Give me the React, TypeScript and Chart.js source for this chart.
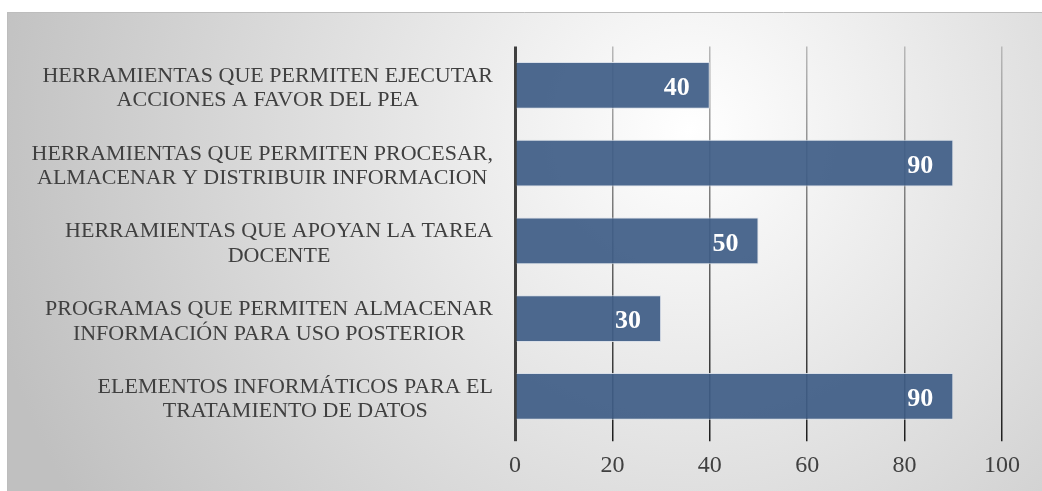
import React, { useEffect, useRef } from "react";
import { Chart, registerables } from "chart.js";

Chart.register(...registerables);

const categories: string[][] = [
  ["HERRAMIENTAS QUE PERMITEN EJECUTAR", "ACCIONES A FAVOR DEL PEA"],
  ["HERRAMIENTAS QUE PERMITEN PROCESAR,", "ALMACENAR Y DISTRIBUIR INFORMACION"],
  ["HERRAMIENTAS QUE APOYAN LA TAREA", "DOCENTE"],
  ["PROGRAMAS QUE PERMITEN ALMACENAR", "INFORMACIÓN PARA USO POSTERIOR"],
  ["ELEMENTOS INFORMÁTICOS PARA EL", "TRATAMIENTO DE DATOS"],
];
const values: number[] = [40, 90, 50, 30, 90];
const xTicks: number[] = [0, 20, 40, 60, 80, 100];

const FONT = "'Liberation Serif', 'Times New Roman', serif";

const backgroundPlugin = {
  id: "bgFrame",
  beforeDraw(chart: any) {
    const { ctx, width, height } = chart;
    ctx.save();
    ctx.fillStyle = "#ffffff";
    ctx.fillRect(0, 0, width, height);
    const g = ctx.createRadialGradient(690, 130, 0, 690, 130, 720);
    g.addColorStop(0, "#ffffff");
    g.addColorStop(1, "#c0c0c0");
    ctx.fillStyle = g;
    ctx.fillRect(7, 12, width - 7, height - 12);
    ctx.strokeStyle = "#bdbdbd";
    ctx.lineWidth = 1;
    ctx.beginPath();
    ctx.moveTo(7.5, height);
    ctx.lineTo(7.5, 12.5);
    ctx.lineTo(width, 12.5);
    ctx.stroke();
    ctx.restore();
  },
};

const categoryLabelPlugin = {
  id: "catLabels",
  afterDraw(chart: any) {
    const { ctx } = chart;
    const yScale = chart.scales.y;
    const right = chart.chartArea.left - 22;
    ctx.save();
    ctx.font = `22px ${FONT}`;
    ctx.fillStyle = "#404040";
    ctx.textAlign = "center";
    ctx.textBaseline = "middle";
    categories.forEach((lines, i) => {
      const yc = yScale.getPixelForValue(i);
      const widest = Math.max(...lines.map((l) => ctx.measureText(l).width));
      const cx = right - widest / 2;
      const pitch = 24.5;
      lines.forEach((l, j) => {
        const y = yc + 3 + (j - (lines.length - 1) / 2) * pitch;
        ctx.fillText(l, cx, y);
      });
    });
    ctx.restore();
  },
};

const valueLabelPlugin = {
  id: "valLabels",
  afterDatasetsDraw(chart: any) {
    const { ctx } = chart;
    const meta = chart.getDatasetMeta(0);
    ctx.save();
    ctx.font = `bold 26px ${FONT}`;
    ctx.fillStyle = "#ffffff";
    ctx.textAlign = "right";
    ctx.textBaseline = "middle";
    meta.data.forEach((bar: any, i: number) => {
      ctx.fillText(String(values[i]), bar.x - 20, bar.y + 3);
    });
    ctx.restore();
  },
};

export default function App() {
  const ref = useRef<HTMLCanvasElement>(null);
  useEffect(() => {
    if (!ref.current) return;
    const chart = new Chart(ref.current, {
      type: "bar",
      data: {
        labels: categories.map((c) => c.join(" ")),
        datasets: [
          {
            data: values,
            backgroundColor: "rgba(64, 94, 134, 0.93)",
            borderColor: "rgba(215, 222, 232, 0.9)",
            borderWidth: 1,
            barPercentage: 0.6,
            categoryPercentage: 1,
          },
        ],
      },
      options: {
        indexAxis: "y",
        animation: false,
        responsive: false,
        maintainAspectRatio: false,
        layout: { padding: { left: 515, top: 46.5, right: 40, bottom: 0 } },
        plugins: { legend: { display: false }, tooltip: { enabled: false } },
        scales: {
          y: { display: false },
          x: {
            min: 0,
            max: 100,
            afterBuildTicks: (scale: any) => {
              scale.ticks = xTicks.map((v) => ({ value: v }));
            },
            border: { display: false },
            grid: {
              drawOnChartArea: true,
              drawTicks: true,
              tickLength: 6,
              lineWidth: (ctx: any) => (ctx.tick && ctx.tick.value === 0 ? 3 : 1.5),
              color: (ctx: any) => {
                if (ctx.tick && ctx.tick.value === 0) return "#404040";
                const c = ctx.chart;
                const area = c.chartArea;
                if (!area) return "#888";
                const g = c.ctx.createLinearGradient(0, area.top, 0, area.bottom + 6);
                g.addColorStop(0, "#b8b8b8");
                g.addColorStop(1, "#1e1e1e");
                return g;
              },
              tickColor: (ctx: any) => (ctx.tick && ctx.tick.value === 0 ? "#404040" : "#1e1e1e"),
            },
            ticks: {
              color: "#404040",
              font: { family: FONT, size: 24 },
              padding: 10.5,
            },
          },
        },
      },
      plugins: [backgroundPlugin, categoryLabelPlugin, valueLabelPlugin],
    });
    return () => chart.destroy();
  }, []);
  return (
    <div style={{ position: "absolute", left: 0, top: 0, width: 1042, height: 491 }}>
      <canvas ref={ref} width={1042} height={491} style={{ width: 1042, height: 491 }} />
    </div>
  );
}
